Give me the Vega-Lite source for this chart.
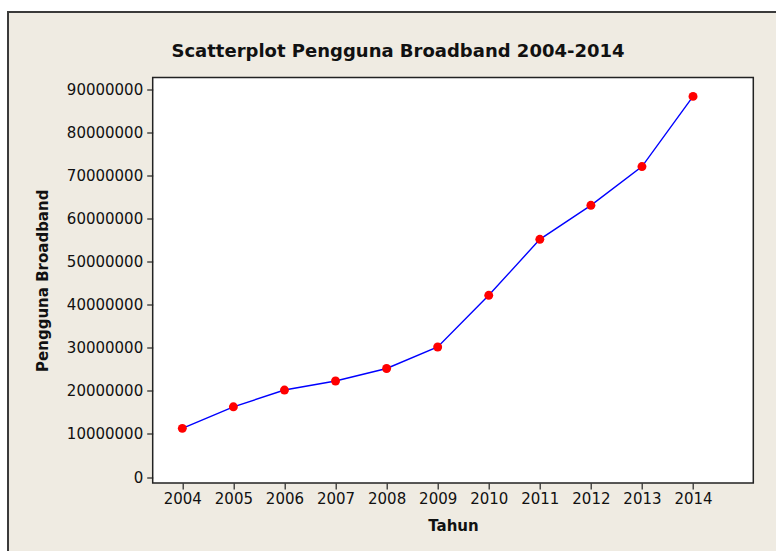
{
  "$schema": "https://vega.github.io/schema/vega-lite/v6.json",
  "autosize": {"type": "none"},
  "width": 600.6,
  "height": 405.5,
  "padding": {"left": 152.7, "top": 77.5, "right": 22.7, "bottom": 68},
  "background": "#ffffff",
  "config": {"view": {"stroke": null}, "font": "DejaVu Sans"},
  "title": {
    "text": "Scatterplot Pengguna Broadband 2004-2014",
    "font": "DejaVu Sans",
    "fontSize": 18,
    "fontWeight": "bold",
    "color": "#111111",
    "anchor": "middle",
    "frame": "group",
    "dx": -55,
    "dy": 64,
    "baseline": "alphabetic",
    "offset": 0
  },
  "data": {
    "values": [
      {"Tahun": 2004, "Pengguna": 11300000},
      {"Tahun": 2005, "Pengguna": 16300000},
      {"Tahun": 2006, "Pengguna": 20200000},
      {"Tahun": 2007, "Pengguna": 22300000},
      {"Tahun": 2008, "Pengguna": 25200000},
      {"Tahun": 2009, "Pengguna": 30200000},
      {"Tahun": 2010, "Pengguna": 42200000},
      {"Tahun": 2011, "Pengguna": 55200000},
      {"Tahun": 2012, "Pengguna": 63100000},
      {"Tahun": 2013, "Pengguna": 72100000},
      {"Tahun": 2014, "Pengguna": 88400000}
    ]
  },
  "layer": [
    {
      "data": {"values": [{}]},
      "mark": {"type": "rect", "fill": "#EFEBE2", "stroke": "#3a3a3a", "strokeWidth": 2, "clip": false},
      "encoding": {
        "x": {"datum": 2000.587, "type": "quantitative"},
        "x2": {"datum": 2040},
        "y": {"datum": 108000000, "type": "quantitative"},
        "y2": {"datum": -80000000}
      }
    },
    {
      "data": {"values": [{}]},
      "mark": {"type": "rect", "fill": "#ffffff", "stroke": "#222222", "strokeWidth": 1.5, "clip": false},
      "encoding": {
        "x": {"datum": 2003.42, "type": "quantitative"},
        "x2": {"datum": 2015.18},
        "y": {"datum": -1390000, "type": "quantitative"},
        "y2": {"datum": 92790000}
      }
    },
    {
      "mark": {"type": "line", "color": "#0000ff", "strokeWidth": 1.4},
      "encoding": {
        "x": {
          "field": "Tahun", "type": "quantitative",
          "scale": {"domain": [2003.42, 2015.18], "nice": false, "zero": false},
          "axis": {
            "title": "Tahun", "values": [2004, 2005, 2006, 2007, 2008, 2009, 2010, 2011, 2012, 2013, 2014],
            "format": "d", "grid": false, "domain": false, "tickSize": 6, "tickColor": "#222222", "tickWidth": 1.2,
            "labelFontSize": 15, "labelColor": "#111111", "labelPadding": 2, "labelFont": "DejaVu Sans",
            "titleFontSize": 15, "titleFontWeight": "bold", "titleColor": "#111111", "titlePadding": 12, "titleFont": "DejaVu Sans",
            "zindex": 1
          }
        },
        "y": {
          "field": "Pengguna", "type": "quantitative",
          "scale": {"domain": [-1390000, 92790000], "nice": false, "zero": false},
          "axis": {
            "title": "Pengguna Broadband", "values": [0, 10000000, 20000000, 30000000, 40000000, 50000000, 60000000, 70000000, 80000000, 90000000],
            "format": "d", "grid": false, "domain": false, "tickSize": 6, "tickColor": "#222222", "tickWidth": 1.2,
            "labelFontSize": 15, "labelColor": "#111111", "labelPadding": 4, "labelFont": "DejaVu Sans",
            "titleFontSize": 15, "titleFontWeight": "bold", "titleColor": "#111111", "titlePadding": 16, "titleFont": "DejaVu Sans",
            "zindex": 1
          }
        }
      }
    },
    {
      "mark": {"type": "point", "filled": true, "color": "#ff0000", "size": 80, "opacity": 1},
      "encoding": {
        "x": {"field": "Tahun", "type": "quantitative"},
        "y": {"field": "Pengguna", "type": "quantitative"}
      }
    }
  ]
}
